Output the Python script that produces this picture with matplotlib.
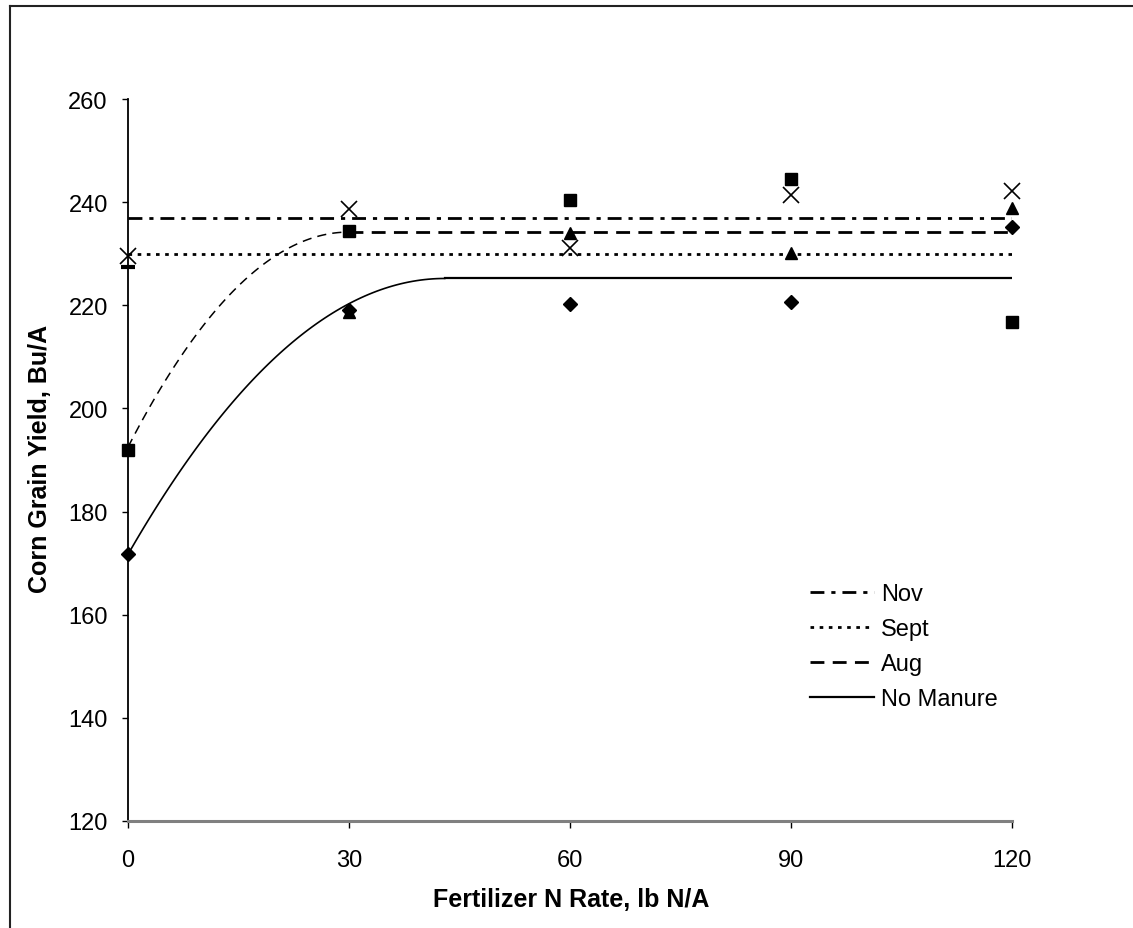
import numpy as np
import matplotlib
matplotlib.use("Agg")
import matplotlib.pyplot as plt
from matplotlib.lines import Line2D

plt.rcParams['font.family'] = ['Liberation Sans', 'DejaVu Sans']

# data
n_rate = [0, 30, 60, 90, 120]
nov_yield = [229.6, 238.7, 231.1, 241.4, 242.2]
sept_yield = [227.4, 218.7, 234.0, 230.1, 238.8]
aug_yield = [192.0, 234.5, 240.5, 244.5, 216.8]
nomanure_yield = [171.7, 219.1, 220.3, 220.6, 235.2]

# fitted response lines: plateau level, intercept and join point of quad-plateau
nov_mean = 236.9
sept_mean = 229.9
aug_fit = dict(intercept=192.5, plateau=234.2, join=30.0)
nomanure_fit = dict(intercept=171.7, plateau=225.2, join=43.0)

legend_labels = ['Nov', 'Sept', 'Aug', 'No Manure']

W, H = 1133, 929
fig = plt.figure(figsize=(W / 100, H / 100), dpi=100)
ax = fig.add_axes([128 / W, 1 - 822 / H, (1012 - 128) / W, (822 - 100) / H])

# frame around the chart area (runs off the picture at right and bottom)
fig.add_artist(Line2D([10 / W, 10 / W], [1 - 7 / H, -0.05], color='#222222', lw=1.5))
fig.add_artist(Line2D([10 / W, 1.05], [1 - 7 / H, 1 - 7 / H], color='#222222', lw=1.5))


def quad_plateau(fit, x):
    b = 2 * (fit['plateau'] - fit['intercept']) / fit['join']
    c = -b / (2 * fit['join'])
    y = fit['intercept'] + b * x + c * x ** 2
    return np.where(x < fit['join'], y, fit['plateau'])


dash_nov = (0, (5, 2.5, 1.5, 2.5))
dash_sept = (0, (1.3, 2.0))
dash_aug = (0, (5, 3))

ax.plot([n_rate[0], n_rate[-1]], [nov_mean, nov_mean], color='black', lw=2, ls=dash_nov)
ax.plot([n_rate[0], n_rate[-1]], [sept_mean, sept_mean], color='black', lw=2, ls=dash_sept)

xa = np.linspace(0, aug_fit['join'], 60)
ax.plot(xa, quad_plateau(aug_fit, xa), color='black', lw=1.1, ls=(0, (6, 4)))
ax.plot([aug_fit['join'], n_rate[-1]], [aug_fit['plateau']] * 2, color='black', lw=2, ls=dash_aug)

xn = np.linspace(0, nomanure_fit['join'], 80)
ax.plot(xn, quad_plateau(nomanure_fit, xn), color='black', lw=1.2)
ax.plot([nomanure_fit['join'], n_rate[-1]], [nomanure_fit['plateau']] * 2, color='black', lw=1.6)

# data points
ax.plot(n_rate, nov_yield, ls='none', marker='x', ms=11, mew=1.2, color='black', zorder=5, clip_on=False)
ax.plot(n_rate[1:], sept_yield[1:], ls='none', marker='^', ms=9, color='black', zorder=5, clip_on=False)
ax.plot(n_rate[:1], sept_yield[:1], ls='none', marker='_', ms=10, mew=3, color='black', zorder=5, clip_on=False)
ax.plot(n_rate, aug_yield, ls='none', marker='s', ms=8.5, color='black', zorder=5, clip_on=False)
ax.plot(n_rate, nomanure_yield, ls='none', marker='D', ms=7.5, color='black', zorder=5, clip_on=False)

ax.set_xlim(0, 120)
ax.set_ylim(120, 260)
ax.set_xticks(n_rate)
ax.set_yticks(np.arange(120, 261, 20))

for s in ['top', 'right']:
    ax.spines[s].set_visible(False)
ax.spines['left'].set_color('black')
ax.spines['left'].set_linewidth(1.3)
ax.spines['bottom'].set_color('#808080')
ax.spines['bottom'].set_linewidth(2.2)
ax.tick_params(axis='y', direction='out', length=4.5, width=1, pad=10, labelsize=17)
ax.tick_params(axis='x', direction='out', length=5, width=1, pad=15, labelsize=17)

fig.text(40 / W, 1 - 459 / H, 'Corn Grain Yield, Bu/A', rotation=90, ha='center', va='center',
         fontsize=18, fontweight='bold')
fig.text(571 / W, 1 - 900 / H, 'Fertilizer N Rate, lb N/A', ha='center', va='center',
         fontsize=18, fontweight='bold')

handles = [Line2D([], [], color='black', lw=2, ls=dash_nov),
           Line2D([], [], color='black', lw=2, ls=dash_sept),
           Line2D([], [], color='black', lw=2, ls=dash_aug),
           Line2D([], [], color='black', lw=1.6)]
fig.legend(handles, legend_labels, loc='upper left', bbox_to_anchor=(810 / W, 1 - 584 / H),
           frameon=False, fontsize=17, handlelength=2.7, handletextpad=0.3, labelspacing=0.55,
           borderpad=0, borderaxespad=0)

fig.savefig('out.png', dpi=100)
